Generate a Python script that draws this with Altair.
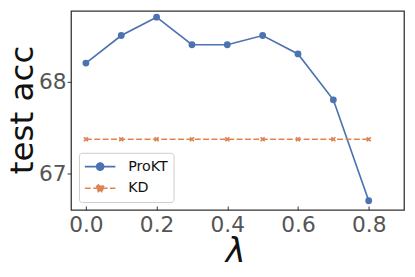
import altair as alt
import pandas as pd

lam = [0.0, 0.1, 0.2, 0.3, 0.4, 0.5, 0.6, 0.7, 0.8]
prokt = [68.2, 68.5, 68.7, 68.4, 68.4, 68.5, 68.3, 67.8, 66.7]
kd = [67.37] * 9
series_names = ["ProKT", "KD"]
colors = ["#4c72b0", "#dd8452"]
x_ticks = [0.0, 0.2, 0.4, 0.6, 0.8]
y_ticks = [67, 68]

df = pd.DataFrame({
    "lam": lam * 2,
    "acc": prokt + kd,
    "series": ["ProKT"] * len(lam) + ["KD"] * len(lam),
})

X_PATH = ("M-1,-0.55L-0.55,-1L0,-0.45L0.55,-1L1,-0.55L0.45,0L1,0.55L0.55,1"
          "L0,0.45L-0.55,1L-1,0.55L-0.45,0Z")
LEG_O = "M-1,0H1M-0.23,0A0.23,0.23 0 1,0 0.23,0A0.23,0.23 0 1,0 -0.23,0Z"
LEG_X = ("M-1,0H1M-0.22,-0.12L-0.12,-0.22L0,-0.1L0.12,-0.22L0.22,-0.12L0.1,0"
         "L0.22,0.12L0.12,0.22L0,0.1L-0.12,0.22L-0.22,0.12L-0.1,0Z")

xs = alt.X("lam:Q", scale=alt.Scale(domain=[-0.042, 0.9], nice=False, zero=False),
           axis=alt.Axis(values=x_ticks, format=".1f", title="λ", labelFontSize=22,
                         offset=-4, labelPadding=5,
                         titleFontSize=34, titleFontStyle="italic",
                         titleX=166.5, titleY=29, titleAlign="center", titleBaseline="top",
                         grid=False))
ys = alt.Y("acc:Q", scale=alt.Scale(domain=[66.6, 68.768], nice=False, zero=False),
           axis=alt.Axis(values=y_ticks, format="d", title="test acc", labelFontSize=22,
                         labelPadding=1, titleFontSize=33, titleX=-49.5, titleY=100,
                         titleAngle=-90, titleAlign="center", titleBaseline="middle",
                         grid=False))

base = alt.Chart(df).encode(x=xs, y=ys)

line_p = base.transform_filter(alt.datum.series == series_names[0]).mark_line(
    strokeWidth=1.7, color=colors[0])
line_k = base.transform_filter(alt.datum.series == series_names[1]).mark_line(
    strokeWidth=1.7, color=colors[1], strokeDash=[6, 2.5])
pt_p = base.transform_filter(alt.datum.series == series_names[0]).mark_point(
    filled=True, opacity=1, shape="circle", size=48, color=colors[0])
pt_k = base.transform_filter(alt.datum.series == series_names[1]).mark_point(
    filled=True, opacity=1, shape=X_PATH, size=28, color=colors[1])

leg = alt.Legend(title=None, orient="bottom-left", offset=8, symbolOpacity=1,
                 symbolFillColor="black", symbolStrokeColor="black",
                 symbolSize=961, symbolStrokeWidth=1.7, clipHeight=18, rowPadding=4,
                 padding=5, labelOffset=12, labelFontSize=14.5, labelColor="#111111",
                 fillColor="white", strokeColor="#cccccc", cornerRadius=3)

legend_layer = base.mark_point(opacity=0, strokeWidth=1.5).encode(
    fill=alt.Fill("series:N", scale=alt.Scale(domain=series_names, range=colors), legend=leg),
    stroke=alt.Stroke("series:N", scale=alt.Scale(domain=series_names, range=colors), legend=leg),
    shape=alt.Shape("series:N", scale=alt.Scale(domain=series_names, range=[LEG_O, LEG_X]),
                    legend=leg),
    strokeDash=alt.StrokeDash("series:N",
                              scale=alt.Scale(domain=series_names, range=[[1, 0], [6, 2.5]]),
                              legend=leg),
)

chart = alt.layer(line_p, line_k, pt_p, pt_k, legend_layer).properties(
    width=338, height=202,
    autosize="none",
    padding={"left": 64, "top": 1, "right": 3, "bottom": 60},
).configure_view(
    stroke="#333333", strokeWidth=1.3
).configure_axis(
    labelFont="DejaVu Sans", titleFont="DejaVu Sans", labelColor="#555555",
    titleColor="#111111", titleFontWeight="normal", domain=False,
    tickColor="#333333", tickSize=4, tickWidth=1,
).configure_legend(
    labelFont="DejaVu Sans"
)

chart.save("out.html", embed_options={"renderer": "svg", "actions": False})
